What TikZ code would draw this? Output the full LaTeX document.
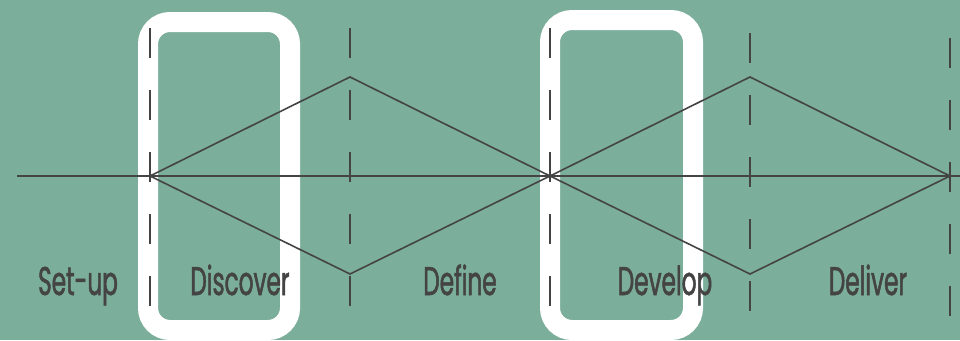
\documentclass[tikz,border=0pt]{standalone}
\usepackage{fontspec}
\newfontfamily\labfont[FakeStretch=0.58,FakeBold=1.3]{Poppins}
\definecolor{bg}{HTML}{7BAE9B}
\definecolor{ink}{HTML}{444444}
\tikzset{
  frame/.style={draw=white, line width=20pt, rounded corners=22pt},
  guide/.style={draw=ink, line width=1.8pt, dash pattern=on 30pt off 32pt},
  axis/.style={draw=ink, line width=2pt},
  edge/.style={draw=ink, line width=1.6pt},
  lab/.style={text=ink, font=\labfont\fontsize{40}{42}\selectfont, anchor=base, inner sep=0pt}
}
\begin{document}
\begin{tikzpicture}[x=1pt,y=-1pt]
\useasboundingbox (0,0) rectangle (960,340);
\fill[bg] (0,0) rectangle (960,340);
% white frames
\draw[frame] (148,22) rectangle (290,330);
\draw[frame] (550,20) rectangle (693,330);
% dashed guides
\coordinate (g1a) at (150,28);  \coordinate (g1b) at (150,306);
\coordinate (g2a) at (350,28);  \coordinate (g2b) at (350,306);
\coordinate (g3a) at (550,28);  \coordinate (g3b) at (550,306);
\coordinate (g4a) at (750,33);  \coordinate (g4b) at (750,311);
\coordinate (g5a) at (950,38);  \coordinate (g5b) at (950,316);
\foreach \i in {1,...,5} \draw[guide] (g\i a) -- (g\i b);
% axis
\coordinate (axL) at (17,176);
\coordinate (axR) at (960,176);
\draw[axis] (axL) -- (axR);
% diamonds
\coordinate (p1) at (150,176);
\coordinate (t1) at (350,77);
\coordinate (b1) at (350,274);
\coordinate (p2) at (550,176);
\coordinate (t2) at (750,77);
\coordinate (b2) at (750,274);
\coordinate (p3) at (950,176);
\draw[edge] (p1) -- (t1) -- (p2) -- (b1) -- cycle;
\draw[edge] (p2) -- (t2) -- (p3) -- (b2) -- cycle;
% labels
\node[lab] (setup) at (78,295) {Set-up};
\node[lab] (discover) at (240,295) {Discover};
\node[lab] (define) at (460,295) {Define};
\node[lab] (develop) at (665,295) {Develop};
\node[lab] (deliver) at (868,295) {Deliver};
\end{tikzpicture}
\end{document}
